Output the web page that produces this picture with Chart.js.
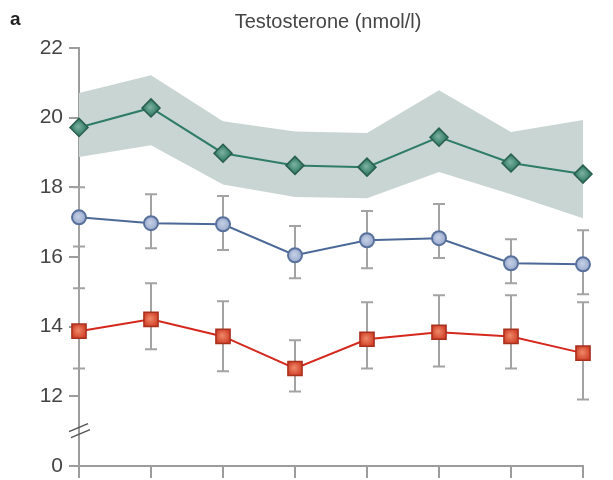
<!DOCTYPE html>
<html>
<head>
<meta charset="utf-8">
<script src="https://cdn.jsdelivr.net/npm/chart.js@4/dist/chart.umd.min.js"></script>
<style>
  html, body { margin: 0; padding: 0; background: #fff; }
  #wrap { width: 613px; height: 480px; }
</style>
</head>
<body>
<div id="wrap"><canvas id="c" width="613" height="480"></canvas></div>
<script>
// Visits along the x axis (unlabelled ticks)
const visits = [0, 1, 2, 3, 4, 5, 6, 7];
// y ticks; the lowest one sits below the axis break and reads "0"
const yTickValues = [10, 12, 14, 16, 18, 20, 22];
const yTickLabels = ['0', '12', '14', '16', '18', '20', '22'];

// Green series with shaded range
const greenMean  = [19.72, 20.28, 18.98, 18.63, 18.58, 19.44, 18.70, 18.38];
const greenUpper = [20.71, 21.22, 19.90, 19.60, 19.56, 20.79, 19.59, 19.93];
const greenLower = [18.87, 19.21, 18.08, 17.72, 17.69, 18.44, 17.80, 17.11];

// Blue series with error bars
const blueMean = [17.14, 16.97, 16.94, 16.05, 16.48, 16.54, 15.82, 15.79];
const blueHigh = [18.00, 17.80, 17.75, 16.89, 17.32, 17.52, 16.51, 16.77];
const blueLow  = [16.30, 16.25, 16.20, 15.39, 15.68, 15.97, 15.25, 14.93];

// Red series with error bars
const redMean = [13.87, 14.21, 13.72, 12.80, 13.64, 13.84, 13.72, 13.24];
const redHigh = [15.10, 15.25, 14.73, 13.61, 14.70, 14.90, 14.90, 14.70];
const redLow  = [12.80, 13.35, 12.72, 12.14, 12.80, 12.86, 12.80, 11.91];

const titleText = 'Testosterone (nmol/l)';
const panelLetter = 'a';

const AXIS = '#9c9c9c';
const FONT = '"Liberation Sans", Arial, sans-serif';
const pts = arr => visits.map((x, i) => ({ x, y: arr[i] }));

// Radial shading for the markers, centred on each point
function markerFill(inner, outer, r) {
  return ctx => {
    if (ctx.type !== 'data' || !ctx.parsed) return outer;
    const sx = ctx.chart.scales.x, sy = ctx.chart.scales.y;
    const px = sx.getPixelForValue(ctx.parsed.x);
    const py = sy.getPixelForValue(ctx.parsed.y);
    if (!isFinite(px) || !isFinite(py)) return outer;
    const g = ctx.chart.ctx.createRadialGradient(px - 1, py - 1, 0, px, py, r);
    g.addColorStop(0, inner);
    g.addColorStop(1, outer);
    return g;
  };
}

// Vertical error bars with caps, drawn just before their series
const errorBars = {
  id: 'errorBars',
  beforeDatasetDraw(chart, args) {
    const ds = chart.data.datasets[args.index];
    if (!ds.errLow) return;
    const { ctx, scales: { x, y } } = chart;
    ctx.save();
    ctx.strokeStyle = '#a3a3a3';
    ctx.lineWidth = 2;
    visits.forEach((v, i) => {
      const px = x.getPixelForValue(v);
      const top = y.getPixelForValue(ds.errHigh[i]);
      const bot = y.getPixelForValue(ds.errLow[i]);
      ctx.beginPath();
      ctx.moveTo(px, top); ctx.lineTo(px, bot);
      ctx.moveTo(px - 6, top); ctx.lineTo(px + 6, top);
      ctx.moveTo(px - 6, bot); ctx.lineTo(px + 6, bot);
      ctx.stroke();
    });
    ctx.restore();
  }
};

// Title, panel letter and the break marks on the y axis
const decorations = {
  id: 'decorations',
  afterDraw(chart) {
    const { ctx, scales: { x, y } } = chart;
    ctx.save();
    ctx.fillStyle = '#454545';
    ctx.textBaseline = 'alphabetic';
    ctx.textAlign = 'center';
    ctx.font = '20px ' + FONT;
    ctx.fillText(titleText, 328, 28);
    ctx.textAlign = 'left';
    ctx.fillStyle = '#222';
    ctx.font = 'bold 19px ' + FONT;
    ctx.fillText(panelLetter, 10, 25);

    const bx = x.left;
    const by = y.getPixelForValue(11);
    ctx.strokeStyle = '#555';
    ctx.lineWidth = 1.5;
    ctx.beginPath();
    ctx.moveTo(bx - 10, by + 0.5); ctx.lineTo(bx + 9, by - 7.5);
    ctx.moveTo(bx - 8, by + 6.5); ctx.lineTo(bx + 11, by - 1.5);
    ctx.stroke();
    ctx.restore();
  }
};

new Chart(document.getElementById('c'), {
  type: 'line',
  data: {
    datasets: [
      {
        label: 'Range upper',
        data: pts(greenUpper),
        borderWidth: 0,
        pointRadius: 0,
        fill: false,
        order: 10
      },
      {
        label: 'Range lower',
        data: pts(greenLower),
        borderWidth: 0,
        pointRadius: 0,
        fill: '-1',
        backgroundColor: '#c9d5d2',
        order: 10
      },
      {
        label: 'Green',
        data: pts(greenMean),
        borderColor: '#2f7c67',
        borderWidth: 2,
        pointStyle: 'rectRot',
        pointRadius: 9,
        pointBorderWidth: 1.5,
        pointBorderColor: '#2a5f50',
        pointBackgroundColor: markerFill('#7fb3a2', '#2f7a63', 8),
        clip: false,
        order: 1
      },
      {
        label: 'Blue',
        data: pts(blueMean),
        errHigh: blueHigh,
        errLow: blueLow,
        borderColor: '#4b6997',
        borderWidth: 2,
        pointStyle: 'circle',
        pointRadius: 7,
        pointBorderWidth: 2,
        pointBorderColor: '#58719b',
        pointBackgroundColor: markerFill('#c7d2e6', '#9aaace', 7),
        clip: false,
        order: 2
      },
      {
        label: 'Red',
        data: pts(redMean),
        errHigh: redHigh,
        errLow: redLow,
        borderColor: '#d5281d',
        borderWidth: 2,
        pointStyle: 'rect',
        pointRadius: 10,
        pointBorderWidth: 1.5,
        pointBorderColor: '#a8301f',
        pointBackgroundColor: markerFill('#ee8a6a', '#d13f26', 8),
        clip: false,
        order: 3
      }
    ]
  },
  options: {
    responsive: false,
    animation: false,
    events: [],
    layout: { padding: { top: 48, right: 30, bottom: 0, left: 0 } },
    plugins: {
      legend: { display: false },
      tooltip: { enabled: false },
      title: { display: false }
    },
    scales: {
      x: {
        type: 'linear',
        min: visits[0],
        max: visits[visits.length - 1],
        afterBuildTicks(s) { s.ticks = visits.map(v => ({ value: v })); },
        ticks: { display: false },
        grid: { drawOnChartArea: false, drawTicks: true, tickLength: 12, color: AXIS, lineWidth: 2 },
        border: { color: AXIS, width: 2 },
        afterFit(s) { s.height = 14; s.paddingLeft = 0; s.paddingRight = 0; }
      },
      y: {
        type: 'linear',
        min: yTickValues[0],
        max: yTickValues[yTickValues.length - 1],
        afterBuildTicks(s) { s.ticks = yTickValues.map(v => ({ value: v })); },
        ticks: {
          padding: 6,
          color: '#444',
          font: { family: FONT, size: 21 },
          callback: v => yTickLabels[yTickValues.indexOf(v)]
        },
        grid: { drawOnChartArea: false, drawTicks: true, tickLength: 10, color: AXIS, lineWidth: 2 },
        border: { color: AXIS, width: 2 },
        afterFit(s) { s.width = 79; s.paddingTop = 0; s.paddingBottom = 0; }
      }
    }
  },
  plugins: [errorBars, decorations]
});
</script>
</body>
</html>
